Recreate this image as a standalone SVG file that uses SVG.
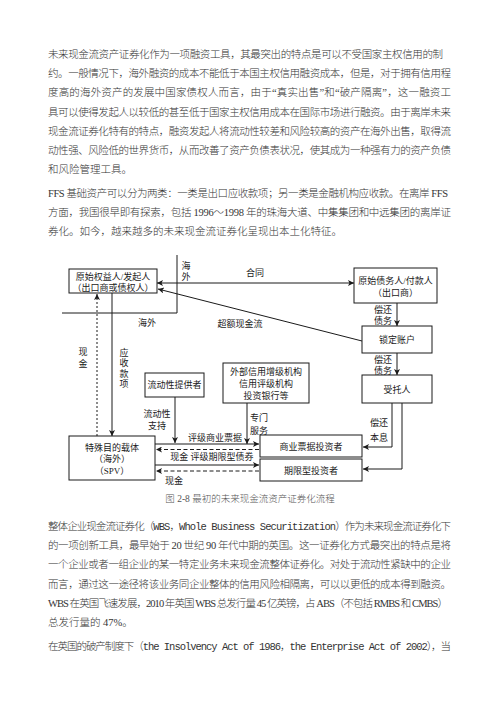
<svg xmlns="http://www.w3.org/2000/svg" width="500" height="707" viewBox="0 0 500 707">
<defs>
<marker id="ah" viewBox="0 0 10 10" refX="10" refY="5" markerWidth="7" markerHeight="6" markerUnits="userSpaceOnUse" orient="auto-start-reverse">
<path d="M0,0 L10,5 L0,10 L2.5,5 z" fill="#1a1a1a"/>
</marker>
</defs>
<style>
.b{font-family:"Liberation Serif","Noto Sans CJK SC",serif;font-size:10.5px;font-weight:300;fill:#333}
.m{font-family:"Liberation Mono","Noto Sans CJK SC",monospace}
.d{font-family:"Liberation Serif","Noto Sans CJK SC",serif;font-size:9px;fill:#1a1a1a;text-anchor:middle}
.cap{font-family:"Liberation Serif","Noto Sans CJK SC",serif;font-size:9.5px;font-weight:300;fill:#555;text-anchor:middle}
.box{fill:#fff;stroke:#1a1a1a;stroke-width:1}
.ln{fill:none;stroke:#1a1a1a;stroke-width:1}
.ar{fill:none;stroke:#1a1a1a;stroke-width:1;marker-end:url(#ah)}
.da{fill:none;stroke:#1a1a1a;stroke-width:1;stroke-dasharray:4 2.5;marker-end:url(#ah)}
.dt{fill:none;stroke:#1a1a1a;stroke-width:1;stroke-dasharray:2 2;marker-end:url(#ah)}
</style>
<rect width="500" height="707" fill="#fff"/>

<g id="text-top">
<text class="b" x="48" y="58" textLength="395" lengthAdjust="spacing">未来现金流资产证券化作为一项融资工具，其最突出的特点是可以不受国家主权信用的制</text>
<text class="b" x="48" y="77.2" textLength="403" lengthAdjust="spacing">约。一般情况下，海外融资的成本不能低于本国主权信用融资成本，但是，对于拥有信用程</text>
<text class="b" x="48" y="96.4" textLength="403" lengthAdjust="spacing">度高的海外资产的发展中国家债权人而言，由于“真实出售”和“破产隔离”，这一融资工</text>
<text class="b" x="48" y="115.6" textLength="403" lengthAdjust="spacing">具可以使得发起人以较低的甚至低于国家主权信用成本在国际市场进行融资。由于离岸未来</text>
<text class="b" x="48" y="134.8" textLength="403" lengthAdjust="spacing">现金流证券化特有的特点，融资发起人将流动性较差和风险较高的资产在海外出售，取得流</text>
<text class="b" x="48" y="154" textLength="403" lengthAdjust="spacing">动性强、风险低的世界货币，从而改善了资产负债表状况，使其成为一种强有力的资产负债</text>
<text class="b" x="48" y="173.2">和风险管理工具。</text>
<text class="b" x="48" y="197" textLength="400" lengthAdjust="spacing">FFS 基础资产可以分为两类：一类是出口应收款项；另一类是金融机构应收款。在离岸 FFS</text>
<text class="b" x="48" y="216.2" textLength="403" lengthAdjust="spacing">方面，我国很早即有探索，包括 1996～1998 年的珠海大道、中集集团和中远集团的离岸证</text>
<text class="b" x="48" y="235.4">券化。如今，越来越多的未来现金流证券化呈现出本土化特征。</text>
</g>

<g id="connectors">
<polyline class="ln" points="177,255 177,313 62,313"/>
<line class="ar" x1="157" y1="283" x2="354" y2="283" style="marker-start:url(#ah)"/>
<line class="ar" x1="362" y1="341" x2="158" y2="289"/>
<line class="ar" x1="397" y1="303" x2="397" y2="326"/>
<line class="ar" x1="397" y1="353" x2="397" y2="375"/>
<polyline class="ar" points="392,403 392,447 363,447"/>
<polyline class="ar" points="402,403 402,469 363,469"/>
<line class="dt" x1="97" y1="436" x2="97" y2="294"/>
<line class="ar" x1="112" y1="293" x2="112" y2="436"/>
<line class="ar" x1="175" y1="397" x2="175" y2="443"/>
<line class="ar" x1="247" y1="403" x2="247" y2="444"/>
<line class="ar" x1="155" y1="444" x2="259" y2="444"/>
<line class="da" x1="259" y1="449.5" x2="156" y2="449.5"/>
<line class="ar" x1="155" y1="465" x2="259" y2="465"/>
<line class="da" x1="259" y1="471" x2="156" y2="471"/>
</g>

<g id="labels">
<text class="d" x="186" y="268.5">海</text>
<text class="d" x="186" y="280">外</text>
<text class="d" x="147" y="325.5">海外</text>
<text class="d" x="255" y="276">合同</text>
<text class="d" x="240" y="327">超额现金流</text>
<text class="d" x="383" y="313">偿还</text>
<text class="d" x="383" y="324">债务</text>
<text class="d" x="383" y="363">偿还</text>
<text class="d" x="383" y="374">债务</text>
<text class="d" x="379" y="426">偿还</text>
<text class="d" x="379" y="441">本息</text>
<text class="d" x="83" y="355">现</text>
<text class="d" x="83" y="367">金</text>
<text class="d" x="124" y="355.5">应</text>
<text class="d" x="124" y="366">收</text>
<text class="d" x="124" y="376.5">款</text>
<text class="d" x="124" y="387">项</text>
<text class="d" x="157" y="417">流动性</text>
<text class="d" x="157" y="428.5">支持</text>
<text class="d" x="259" y="421">专门</text>
<text class="d" x="259" y="434">服务</text>
<text class="d" x="215" y="441">评级商业票据</text>
<text class="d" x="212" y="460">现金 评级期限型债券</text>
<text class="d" x="174" y="484">现金</text>
</g>

<g id="node-originator">
<rect class="box" x="69" y="269" width="88" height="24"/>
<text class="d" x="113" y="279.5">原始权益人/发起人</text>
<text class="d" x="113" y="290.5">（出口商或债权人）</text>
</g>
<g id="node-obligor">
<rect class="box" x="354" y="268" width="83" height="35"/>
<text class="d" x="395.5" y="284">原始债务人/付款人</text>
<text class="d" x="395.5" y="296">（出口商）</text>
</g>
<g id="node-lockbox">
<rect class="box" x="362" y="326" width="70" height="27"/>
<text class="d" x="397" y="343">锁定账户</text>
</g>
<g id="node-trustee">
<rect class="box" x="362" y="375" width="70" height="28"/>
<text class="d" x="397" y="392.5">受托人</text>
</g>
<g id="node-external">
<rect class="box" x="223" y="363" width="86" height="40"/>
<text class="d" x="266" y="374.5">外部信用增级机构</text>
<text class="d" x="266" y="386.5">信用评级机构</text>
<text class="d" x="266" y="398.5">投资银行等</text>
</g>
<g id="node-liquidity">
<rect class="box" x="145" y="373" width="59" height="24"/>
<text class="d" x="174.5" y="388">流动性提供者</text>
</g>
<g id="node-spv">
<rect class="box" x="69" y="436" width="86" height="44"/>
<text class="d" x="112" y="450.5">特殊目的载体</text>
<text class="d" x="112" y="462">（海外）</text>
<text class="d" x="112" y="473.5">（SPV）</text>
</g>
<g id="node-cp-investors">
<rect class="box" x="260" y="435" width="102" height="22"/>
<text class="d" x="311" y="449.5">商业票据投资者</text>
</g>
<g id="node-term-investors">
<rect class="box" x="260" y="459" width="102" height="22"/>
<text class="d" x="311" y="473.5">期限型投资者</text>
</g>

<text class="cap" x="250" y="502">图 2-8 最初的未来现金流资产证券化流程</text>

<g id="text-bottom">
<text class="b" x="48" y="530" textLength="403" lengthAdjust="spacing">整体企业现金流证券化（<tspan class="m">WBS，Whole Business Securitization</tspan>）作为未来现金流证券化下</text>
<text class="b" x="48" y="549.2" textLength="403" lengthAdjust="spacing">的一项创新工具，最早始于 20 世纪 90 年代中期的英国。这一证券化方式最突出的特点是将</text>
<text class="b" x="48" y="568.4" textLength="403" lengthAdjust="spacing">一个企业或者一组企业的某一特定业务未来现金流整体证券化。对处于流动性紧缺中的企业</text>
<text class="b" x="48" y="587.6" textLength="403" lengthAdjust="spacing">而言，通过这一途径将该业务同企业整体的信用风险相隔离，可以以更低的成本得到融资。</text>
<text class="b" x="48" y="606.8" textLength="400" lengthAdjust="spacing">WBS 在英国飞速发展，2010 年英国 WBS 总发行量 45 亿英镑，占 ABS（不包括 RMBS 和 CMBS）</text>
<text class="b" x="48" y="626">总发行量的 47%。</text>
<text class="b" x="48" y="650" textLength="403" lengthAdjust="spacing">在英国的破产制度下（<tspan class="m">the Insolvency Act of 1986，the Enterprise Act of 2002</tspan>），当</text>
</g>
</svg>
